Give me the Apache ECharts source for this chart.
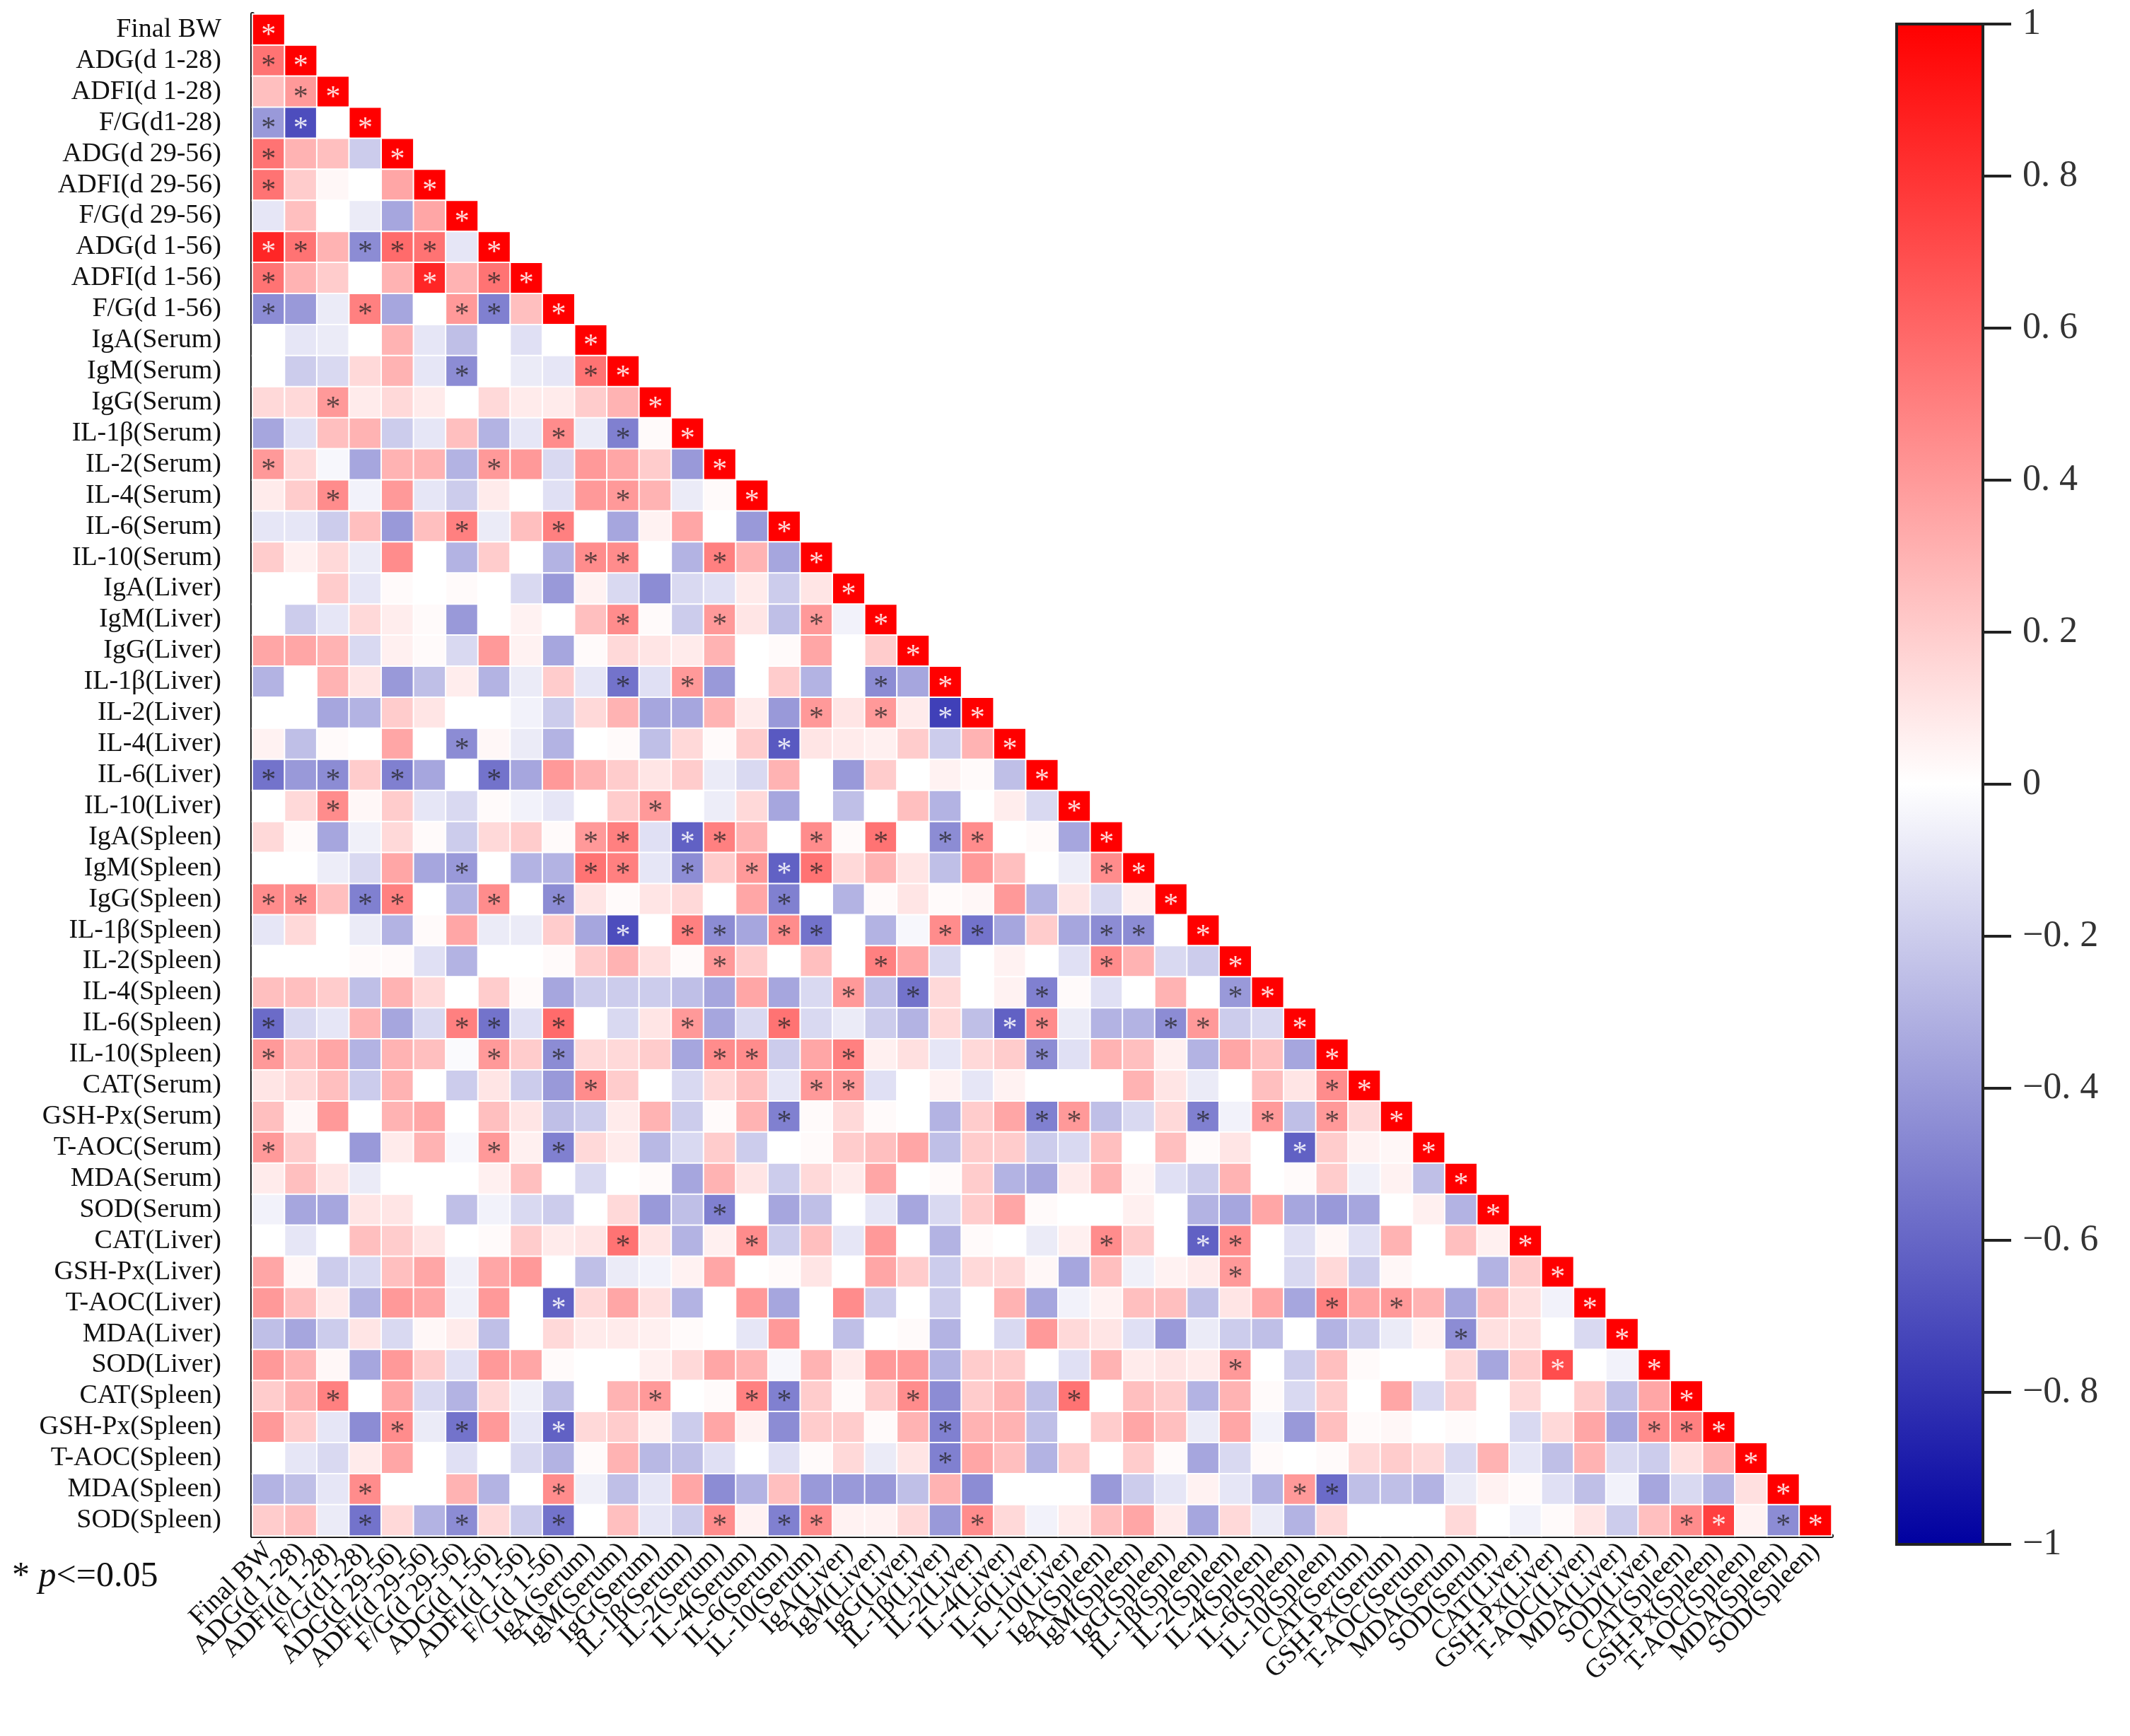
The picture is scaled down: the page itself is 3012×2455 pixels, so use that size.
<!DOCTYPE html>
<html>
<head>
<meta charset="utf-8">
<script src="https://cdn.jsdelivr.net/npm/echarts@6/dist/echarts.min.js"></script>
<style>
  html, body { margin: 0; padding: 0; background: #fff; }
  #main { width: 3012px; height: 2455px; }
</style>
</head>
<body>
<div id="main"></div>
<script>
// variable names (rows top to bottom, columns left to right)
var labels = ['Final BW', 'ADG(d 1-28)', 'ADFI(d 1-28)', 'F/G(d1-28)', 'ADG(d 29-56)', 'ADFI(d 29-56)',
  'F/G(d 29-56)', 'ADG(d 1-56)', 'ADFI(d 1-56)', 'F/G(d 1-56)', 'IgA(Serum)', 'IgM(Serum)', 'IgG(Serum)',
  'IL-1β(Serum)', 'IL-2(Serum)', 'IL-4(Serum)', 'IL-6(Serum)', 'IL-10(Serum)', 'IgA(Liver)', 'IgM(Liver)',
  'IgG(Liver)', 'IL-1β(Liver)', 'IL-2(Liver)', 'IL-4(Liver)', 'IL-6(Liver)', 'IL-10(Liver)', 'IgA(Spleen)',
  'IgM(Spleen)', 'IgG(Spleen)', 'IL-1β(Spleen)', 'IL-2(Spleen)', 'IL-4(Spleen)', 'IL-6(Spleen)',
  'IL-10(Spleen)', 'CAT(Serum)', 'GSH-Px(Serum)', 'T-AOC(Serum)', 'MDA(Serum)', 'SOD(Serum)', 'CAT(Liver)',
  'GSH-Px(Liver)', 'T-AOC(Liver)', 'MDA(Liver)', 'SOD(Liver)', 'CAT(Spleen)', 'GSH-Px(Spleen)',
  'T-AOC(Spleen)', 'MDA(Spleen)', 'SOD(Spleen)'];

// lower triangle, row i holds r(i, 0..i-1); the diagonal is 1
var corr = [
  [],
  [0.55],
  [0.25, 0.4],
  [-0.4, -0.7, 0],
  [0.55, 0.3, 0.25, -0.2],
  [0.55, 0.2, 0.03, 0, 0.35],
  [-0.1, 0.25, 0, -0.08, -0.35, 0.35],
  [0.85, 0.55, 0.3, -0.45, 0.58, 0.55, -0.1],
  [0.55, 0.3, 0.2, 0, 0.3, 0.85, 0.3, 0.55],
  [-0.45, -0.4, -0.08, 0.5, -0.35, 0, 0.4, -0.5, 0.25],
  [0, -0.1, -0.08, 0, 0.3, -0.1, -0.25, 0, -0.12, 0],
  [0, -0.2, -0.15, 0.15, 0.3, -0.1, -0.45, 0, -0.08, -0.1, 0.55],
  [0.15, 0.15, 0.4, 0.08, 0.15, 0.08, 0, 0.15, 0.08, 0.08, 0.2, 0.3],
  [-0.35, -0.12, 0.25, 0.3, -0.2, -0.1, 0.25, -0.3, -0.1, 0.45, -0.08, -0.5, 0.02],
  [0.4, 0.15, -0.03, -0.35, 0.3, 0.3, -0.3, 0.4, 0.4, -0.15, 0.4, 0.35, 0.2, -0.4],
  [0.08, 0.2, 0.45, -0.05, 0.4, -0.1, -0.2, 0.08, 0, -0.12, 0.4, 0.4, 0.3, -0.08, 0.02],
  [-0.1, -0.1, -0.2, 0.25, -0.4, 0.25, 0.5, -0.08, 0.25, 0.5, 0, -0.35, 0.05, 0.35, 0, -0.4],
  [0.2, 0.06, 0.15, -0.08, 0.45, 0, -0.3, 0.2, 0, -0.3, 0.45, 0.45, 0, -0.3, 0.5, 0.3, -0.35],
  [0, 0, 0.2, -0.1, 0.02, 0, 0.02, 0, -0.15, -0.4, 0.05, -0.15, -0.45, -0.15, -0.12, 0.08, -0.2, 0.1],
  [0, -0.2, -0.1, 0.15, 0.07, 0.02, -0.4, 0, 0.05, 0, 0.25, 0.45, 0.02, -0.2, 0.4, 0.1, -0.25, 0.4, -0.05],
  [0.35, 0.35, 0.3, -0.15, 0.06, 0.02, -0.15, 0.4, 0.05, -0.35, 0.02, 0.15, 0.1, 0.08, 0.3, 0, 0.02, 0.35, 0, 0.2],
  [-0.3, 0, 0.3, 0.1, -0.4, -0.25, 0.07, -0.3, -0.08, 0.2, -0.1, -0.55, -0.12, 0.4, -0.4, 0, 0.2, -0.3, 0, -0.45, -0.35],
  [0, 0, -0.35, -0.3, 0.2, 0.1, 0, 0, -0.05, -0.2, 0.15, 0.3, -0.35, -0.35, 0.3, 0.08, -0.4, 0.4, 0.1, 0.4, 0.08, -0.75],
  [0.05, -0.25, 0.02, 0, 0.35, 0, -0.45, 0.03, -0.08, -0.3, 0, 0.02, -0.25, 0.15, 0.02, 0.2, -0.65, 0.1, 0.08, 0.06, 0.2, -0.2, 0.3],
  [-0.55, -0.4, -0.45, 0.2, -0.5, -0.35, 0, -0.55, -0.35, 0.4, 0.3, 0.2, 0.1, 0.2, -0.08, -0.15, 0.3, 0, -0.4, 0.2, 0, 0.05, 0.02, -0.25],
  [0, 0.15, 0.45, 0.03, 0.2, -0.1, -0.15, 0.02, -0.05, -0.1, 0, 0.2, 0.4, 0, -0.07, 0.15, -0.35, 0, -0.25, 0, 0.25, -0.3, 0, 0.07, -0.15],
  [0.15, 0.02, -0.35, -0.06, 0.15, 0.02, -0.2, 0.15, 0.2, 0.02, 0.4, 0.5, -0.12, -0.62, 0.5, 0.3, 0, 0.45, 0.02, 0.55, 0, -0.45, 0.45, 0, 0.02, -0.35],
  [0, 0, -0.07, -0.15, 0.35, -0.35, -0.4, 0, -0.3, -0.3, 0.55, 0.5, -0.1, -0.45, 0.2, 0.4, -0.62, 0.55, 0.15, 0.3, 0.1, -0.25, 0.4, 0.25, 0, -0.07, 0.45],
  [0.45, 0.45, 0.25, -0.5, 0.5, 0, -0.3, 0.45, 0, -0.45, 0.1, 0.02, 0.1, 0.15, 0, 0.35, -0.5, 0, -0.3, 0.02, 0.1, 0.02, 0.03, 0.4, -0.3, 0.1, -0.15, 0.06],
  [-0.1, 0.15, 0, -0.08, -0.3, 0.02, 0.35, -0.08, -0.08, 0.2, -0.35, -0.7, 0, 0.5, -0.45, -0.35, 0.45, -0.55, 0, -0.3, -0.03, 0.45, -0.55, -0.35, 0.2, -0.35, -0.45, -0.45, 0],
  [0, 0, 0, 0.02, 0.02, -0.12, -0.3, 0, 0, 0.02, 0.2, 0.3, 0.12, 0.02, 0.4, 0.2, 0, 0.25, 0, 0.5, 0.35, -0.15, 0, 0.05, 0, -0.12, 0.45, 0.3, -0.15, -0.2],
  [0.25, 0.25, 0.2, -0.25, 0.3, 0.15, 0, 0.2, 0.02, -0.35, -0.2, -0.2, -0.2, -0.25, -0.35, 0.35, -0.35, -0.15, 0.4, -0.25, -0.55, 0.15, 0, 0.05, -0.5, 0.02, -0.12, 0, 0.3, 0, -0.4],
  [-0.58, -0.15, -0.1, 0.3, -0.35, -0.15, 0.5, -0.55, -0.12, 0.58, 0, -0.15, 0.1, 0.4, -0.35, -0.15, 0.55, -0.15, -0.08, -0.2, -0.3, 0.15, -0.25, -0.62, 0.45, -0.08, -0.3, -0.3, -0.45, 0.4, -0.2, -0.15],
  [0.4, 0.25, 0.35, -0.3, 0.3, 0.25, -0.02, 0.4, 0.2, -0.45, 0.15, 0.15, 0.2, -0.35, 0.45, 0.45, -0.2, 0.35, 0.5, 0.06, 0.12, -0.1, 0.15, 0.2, -0.45, -0.12, 0.3, 0.25, 0.06, -0.3, 0.35, 0.25, -0.35],
  [0.1, 0.15, 0.25, -0.2, 0.3, 0, -0.2, 0.1, -0.2, -0.4, 0.45, 0.2, 0, -0.15, 0.15, 0.25, -0.1, 0.4, 0.4, -0.12, 0, 0.05, -0.1, 0.05, 0, 0, 0, 0.3, 0.1, -0.08, 0, 0.25, 0.1, 0.45],
  [0.25, 0.03, 0.4, 0, 0.3, 0.35, 0, 0.25, 0.1, -0.25, -0.2, 0.08, 0.3, -0.2, 0.02, 0.3, -0.5, 0.02, 0.15, 0.02, 0, -0.3, 0.2, 0.35, -0.5, 0.4, -0.25, -0.15, 0.15, -0.5, -0.05, 0.4, -0.25, 0.4, 0.15],
  [0.4, 0.2, 0, -0.4, 0.08, 0.3, -0.03, 0.4, 0.06, -0.5, 0.15, 0.08, -0.28, -0.15, 0.2, -0.2, 0, 0.02, 0.2, 0.25, 0.35, -0.25, 0.2, 0.2, -0.2, -0.15, 0.25, 0, 0.25, 0.02, 0.1, 0, -0.62, 0.2, 0.05, 0.03],
  [0.08, 0.25, 0.1, -0.08, 0, 0, 0, 0.06, 0.25, 0, -0.15, 0, 0.02, -0.35, 0.3, 0.1, -0.2, 0.15, 0.08, 0.35, 0, 0.02, 0.2, -0.3, -0.35, 0.08, 0.3, 0.04, -0.12, -0.2, 0.3, 0, 0.02, 0.2, -0.06, 0.05, -0.25],
  [-0.05, -0.35, -0.35, 0.1, 0.1, 0, -0.25, -0.05, -0.15, -0.2, 0, 0.15, -0.4, -0.25, -0.5, 0, -0.35, -0.25, 0, -0.1, -0.35, -0.15, 0.2, 0.35, 0.02, 0, 0, 0.06, 0, -0.3, -0.35, 0.35, -0.35, -0.4, -0.35, 0, 0.06, -0.3],
  [0, -0.1, 0, 0.25, 0.2, 0.1, 0, 0.02, 0.2, 0.08, 0.1, 0.55, 0.1, -0.3, 0.06, 0.45, -0.2, 0.25, -0.1, 0.4, 0, -0.3, 0.02, 0, -0.08, 0.06, 0.45, 0.2, 0, -0.62, 0.45, 0, -0.12, 0.03, -0.12, 0.3, 0, 0.25, 0.06],
  [0.35, 0.03, -0.2, -0.15, 0.25, 0.35, -0.06, 0.35, 0.4, 0, -0.25, -0.08, -0.05, 0.05, 0.35, 0, 0.02, 0.1, 0, 0.35, 0.2, -0.2, 0.15, 0.15, 0.03, -0.35, 0.25, -0.06, 0.05, 0.08, 0.4, 0, -0.15, 0.15, -0.2, 0.03, 0, 0, -0.3, 0.2],
  [0.4, 0.25, 0.08, -0.3, 0.4, 0.35, -0.06, 0.4, 0, -0.62, 0.15, 0.35, 0.12, -0.3, 0, 0.4, -0.35, 0, 0.45, -0.2, 0, -0.2, 0, 0.3, -0.35, -0.05, 0.05, 0.25, 0.25, -0.25, 0.1, 0.35, -0.35, 0.5, 0.35, 0.4, 0.3, -0.35, 0.25, 0.12, -0.05],
  [-0.25, -0.35, -0.2, 0.1, -0.15, 0.03, 0.08, -0.25, 0, 0.15, 0.08, 0.08, 0.06, 0.02, 0, -0.1, 0.4, 0, -0.25, 0, 0.02, -0.3, 0, -0.15, 0.4, 0.15, 0.1, -0.12, -0.4, -0.08, -0.2, -0.25, 0, -0.3, -0.2, -0.08, 0.05, -0.45, 0.12, 0.12, 0, -0.15],
  [0.4, 0.3, 0.03, -0.35, 0.4, 0.2, -0.12, 0.4, 0.35, 0.02, 0, 0, 0.06, 0.15, 0.35, 0.3, -0.03, 0.3, 0.08, 0.4, 0.4, -0.3, 0.2, 0.2, 0, -0.12, 0.3, 0.08, 0.1, 0.08, 0.4, 0, -0.2, 0.25, 0.02, 0, 0, 0.15, -0.35, 0.2, 0.7, 0, -0.05],
  [0.2, 0.3, 0.5, 0, 0.35, -0.15, -0.3, 0.15, -0.06, -0.25, 0, 0.3, 0.4, 0, 0.02, 0.5, -0.5, 0.2, 0.02, 0.2, 0.45, -0.45, 0.2, 0.3, -0.25, 0.55, 0, 0.25, 0.2, -0.3, 0.3, 0.02, -0.15, 0.2, 0, 0.35, -0.15, 0.2, 0, 0.15, 0, 0.2, -0.25, 0.35],
  [0.4, 0.2, -0.1, -0.45, 0.45, -0.08, -0.55, 0.4, -0.1, -0.62, 0.15, 0.2, 0.06, -0.2, 0.35, 0.05, -0.45, 0.2, 0.2, 0.02, 0.3, -0.5, 0.3, 0.3, -0.25, 0, 0.2, 0.35, 0.25, -0.08, 0.35, -0.05, -0.4, 0.25, 0.02, 0.03, 0, 0.02, 0, -0.15, 0.15, 0.35, -0.35, 0.45, 0.5],
  [0, -0.1, -0.15, 0.08, 0.35, 0, -0.12, 0, -0.15, -0.3, 0.02, 0.3, -0.28, -0.25, -0.12, 0, -0.12, 0.02, 0.15, -0.08, 0.1, -0.5, 0.35, 0.25, -0.3, 0.2, 0, 0.2, 0.02, -0.35, -0.15, 0.02, 0, 0.02, 0.15, 0.2, 0.15, -0.15, 0.3, -0.1, -0.25, 0.3, -0.15, -0.2, 0.12, 0.3],
  [-0.3, -0.25, -0.1, 0.45, 0, 0, 0.3, -0.3, 0, 0.45, -0.06, -0.25, -0.1, 0.35, -0.45, -0.3, 0.25, -0.4, -0.4, -0.4, -0.25, 0.3, -0.45, 0, 0, 0, -0.4, -0.2, -0.1, 0.05, -0.1, -0.3, 0.4, -0.58, -0.25, -0.25, -0.3, -0.08, 0.05, 0.02, -0.12, -0.25, -0.05, -0.35, -0.15, -0.3, 0.12],
  [0.2, 0.25, -0.08, -0.55, 0.15, -0.3, -0.45, 0.15, -0.2, -0.55, 0, 0.25, -0.1, -0.2, 0.45, 0.05, -0.5, 0.45, 0.05, 0.05, 0.15, -0.4, 0.45, 0.15, -0.05, 0.08, 0.25, 0.35, 0.08, -0.35, 0.15, -0.08, -0.3, 0.15, 0, 0, 0, 0.15, 0, -0.05, 0.02, 0.1, -0.2, 0.25, 0.45, 0.75, 0.05, -0.45]
];

// columns marked with * (p<=0.05) in each row, diagonal not listed
var sig = [
  [], [0], [1], [0, 1], [0], [0], [], [0, 1, 3, 4, 5], [0, 5, 7], [0, 3, 6, 7],
  [], [6, 10], [2], [9, 11], [0, 7], [2, 11], [6, 9], [10, 11, 14], [], [11, 14, 17],
  [], [11, 13, 19], [17, 19, 21], [6, 16], [0, 2, 4, 7], [2, 12],
  [10, 11, 13, 14, 17, 19, 21, 22], [6, 10, 11, 13, 15, 16, 17, 26], [0, 1, 3, 4, 7, 9, 16],
  [11, 13, 14, 16, 17, 21, 22, 26, 27], [14, 19, 26], [18, 20, 24, 30],
  [0, 6, 7, 9, 13, 16, 23, 24, 28, 29], [0, 7, 9, 14, 15, 18, 24], [10, 17, 18, 33],
  [16, 24, 25, 29, 31, 33], [0, 7, 9, 32], [], [14], [11, 15, 26, 29, 30], [30], [9, 33, 35],
  [37], [30, 40], [2, 12, 15, 16, 20, 25], [4, 6, 9, 21, 43, 44], [21], [3, 9, 32, 33],
  [3, 6, 9, 14, 16, 17, 22, 44, 45, 47]
];

var scaleRange = [-1, 1];
var scaleColors = ['#0000A0', '#FFFFFF', '#FF0000'];

var cells = [];
corr.forEach(function (vals, i) {
  vals.concat([1]).forEach(function (v, j) {
    var marked = j === i || sig[i].indexOf(j) >= 0;
    cells.push({
      value: [j, i, v],
      label: {
        show: marked,
        color: Math.abs(v) >= 0.6 ? 'rgba(255,255,255,0.85)' : 'rgba(30,30,30,0.72)'
      }
    });
  });
});

var serif = '"Liberation Serif", "Times New Roman", serif';
var chart = echarts.init(document.getElementById('main'), null, { renderer: 'canvas' });

chart.setOption({
  backgroundColor: '#fff',
  animation: false,
  title: {
    text: '{a|* }{b|p}{a|<=0.05}',
    left: 12,
    top: 2200,
    textStyle: {
      fontWeight: 'normal',
      rich: {
        a: { fontSize: 50, fontFamily: serif, fontWeight: 'normal', color: '#111' },
        b: { fontSize: 50, fontFamily: serif, fontWeight: 'normal', fontStyle: 'italic', color: '#111' }
      }
    }
  },
  grid: [
    { left: 357, top: 20, width: 2233, height: 2152 },
    { left: 2682, top: 34, width: 122, height: 2150 }
  ],
  xAxis: [{
    type: 'category',
    gridIndex: 0,
    data: labels,
    axisLine: { lineStyle: { color: '#000', width: 6 } },
    axisTick: { show: false },
    splitLine: { show: false },
    axisLabel: {
      interval: 0, rotate: 45, margin: 16,
      fontSize: 38, fontFamily: serif, color: '#111'
    }
  }, {
    type: 'category',
    gridIndex: 1,
    data: [''],
    show: false
  }],
  yAxis: [{
    type: 'category',
    gridIndex: 0,
    data: labels,
    inverse: true,
    axisLine: { lineStyle: { color: '#000', width: 6 } },
    axisTick: { show: false },
    splitLine: { show: false },
    axisLabel: {
      interval: 0, margin: 44,
      fontSize: 38, fontFamily: serif, color: '#111'
    }
  }, {
    type: 'value',
    gridIndex: 1,
    min: scaleRange[0],
    max: scaleRange[1],
    interval: 0.2,
    position: 'right',
    axisLine: { show: true, lineStyle: { color: '#222', width: 4 } },
    axisTick: { show: true, length: 40, lineStyle: { color: '#222', width: 4 } },
    splitLine: { show: false },
    axisLabel: {
      margin: 56, fontSize: 52, fontFamily: serif, color: '#333',
      formatter: function (v) {
        var s = Math.abs(v) < 1e-9 ? '0' : (Number.isInteger(Math.round(v * 1e6) / 1e6) ? String(Math.round(v)) : v.toFixed(1).replace('.', '. '));
        return s.replace('-', '−');
      }
    }
  }],
  visualMap: {
    type: 'continuous',
    show: false,
    seriesIndex: 0,
    min: scaleRange[0],
    max: scaleRange[1],
    inRange: { color: scaleColors }
  },
  series: [{
    type: 'heatmap',
    xAxisIndex: 0,
    yAxisIndex: 0,
    data: cells,
    itemStyle: { borderColor: '#fff', borderWidth: 2 },
    label: {
      formatter: '*',
      fontSize: 42,
      fontFamily: serif,
      offset: [0, 9]
    },
    emphasis: { disabled: true }
  }, {
    type: 'custom',
    xAxisIndex: 1,
    yAxisIndex: 1,
    data: [[0, scaleRange[0], scaleRange[1]]],
    renderItem: function (params, api) {
      var top = api.coord([api.value(0), api.value(2)]);
      var bottom = api.coord([api.value(0), api.value(1)]);
      var w = api.size([1, 0])[0];
      return {
        type: 'rect',
        shape: { x: top[0] - w / 2, y: top[1], width: w, height: bottom[1] - top[1] },
        style: {
          fill: new echarts.graphic.LinearGradient(0, 0, 0, 1, [
            { offset: 0, color: scaleColors[2] },
            { offset: 0.5, color: scaleColors[1] },
            { offset: 1, color: scaleColors[0] }
          ]),
          stroke: '#222',
          lineWidth: 4
        }
      };
    }
  }]
});
</script>
</body>
</html>
